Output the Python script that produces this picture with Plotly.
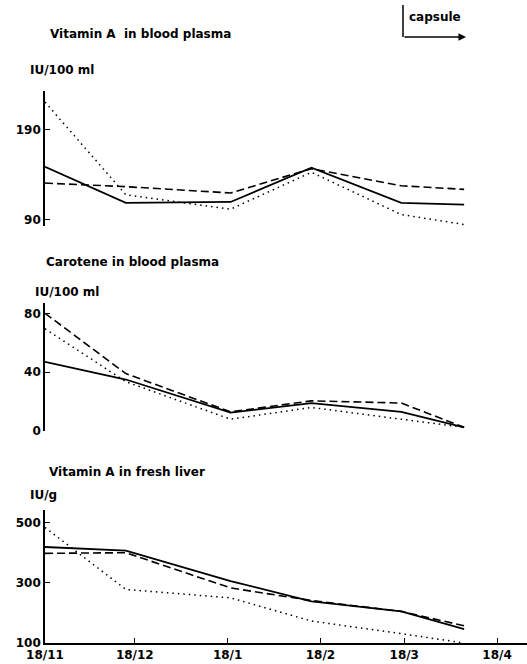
import plotly.graph_objects as go

# ---- data ----
sample_days = [0, 27, 62, 89, 119, 140]   # days after 18/11
tick_days = [0, 30, 61, 92, 120, 151]
tick_labels = ["18/11", "18/12", "18/1", "18/2", "18/3", "18/4"]

vitA_plasma_solid = [149, 109, 110, 148, 109, 107]
vitA_plasma_dashed = [131, 127, 120, 147, 128, 124]
vitA_plasma_dotted = [221, 118, 102, 143, 96, 85]

carotene_solid = [47, 35, 12.5, 19, 13, 2.5]
carotene_dashed = [80, 39, 13, 20.5, 19, 2.5]
carotene_dotted = [69.5, 33.5, 8, 16, 8, 2.5]

liver_solid = [419, 407, 306, 238, 205, 146]
liver_dashed = [398, 400, 283, 241, 205, 157]
liver_dotted = [484, 278, 250, 173, 131, 100]

W, H = 527, 664
FONT = "DejaVu Sans"

def px(x):
    return x / W

def py(y):
    return 1 - y / H

styles = [("solid", 1.8), ("8px,4px", 1.6), ("1.5px,4px", 1.5)]

fig = go.Figure()
panels = [
    ("y", [vitA_plasma_solid, vitA_plasma_dashed, vitA_plasma_dotted]),
    ("y2", [carotene_solid, carotene_dashed, carotene_dotted]),
    ("y3", [liver_solid, liver_dashed, liver_dotted]),
]
for yax, series in panels:
    for vals, (dash, w) in zip(series, styles):
        fig.add_trace(go.Scatter(
            x=sample_days, y=vals, mode="lines", xaxis="x", yaxis=yax,
            line=dict(color="black", width=w, dash=dash), showlegend=False,
            hoverinfo="skip"))

tickfont = dict(family=FONT, size=12, color="black", weight="bold")
axis_common = dict(showline=True, linecolor="black", linewidth=1.6,
                   showgrid=False, zeroline=False, ticks="inside",
                   tickcolor="black", ticklen=5, tickwidth=1.4,
                   anchor="x", automargin=False, tickfont=tickfont)

fig.update_layout(
    template="none",
    width=W, height=H,
    margin=dict(l=0, r=0, t=0, b=0),
    paper_bgcolor="white", plot_bgcolor="white",
    xaxis=dict(domain=[px(45), 1], range=[0, 161], showline=True,
               linecolor="black", linewidth=1.6, showgrid=False,
               zeroline=False, tickvals=tick_days, ticktext=tick_labels,
               ticks="inside", ticklen=5, tickcolor="black", tickwidth=1.4,
               anchor="y3", automargin=False, ticklabelstandoff=0,
               tickfont=tickfont),
    yaxis=dict(domain=[py(226), py(91)], range=[83.3, 233.3],
               tickvals=[90, 190], **axis_common),
    yaxis2=dict(domain=[py(431), py(303)], range=[0, 87],
                tickvals=[0, 40, 80], **axis_common),
    yaxis3=dict(domain=[py(643), py(510)], range=[100, 542],
                tickvals=[100, 300, 500], **axis_common),
)

def label(text, x, y, size=12):
    fig.add_annotation(text=text, x=px(x), y=py(y), xref="paper", yref="paper",
                       xanchor="left", yanchor="middle", showarrow=False,
                       font=dict(family=FONT, size=size, color="black",
                                 weight="bold"))

label("Vitamin A  in blood plasma", 48, 34)
label("IU/100 ml", 28, 70)
label("Carotene in blood plasma", 44, 262)
label("IU/100 ml", 33, 292)
label("Vitamin A in fresh liver", 47, 472)
label("IU/g", 28, 495)
label("capsule", 407, 17)

# capsule marker
fig.add_shape(type="line", xref="paper", yref="paper",
              x0=px(403), x1=px(403), y0=py(5), y1=py(37),
              line=dict(color="black", width=1.5))
fig.add_annotation(text="", x=px(466), y=py(37), xref="paper", yref="paper",
                   ax=-63, ay=0, showarrow=True, arrowhead=2, arrowsize=1,
                   arrowwidth=1.5, arrowcolor="black")

fig.write_html("out.html",
               config={"displayModeBar": False},
               post_script="document.body.style.margin='0';"
                           "document.body.style.overflow='hidden';")
